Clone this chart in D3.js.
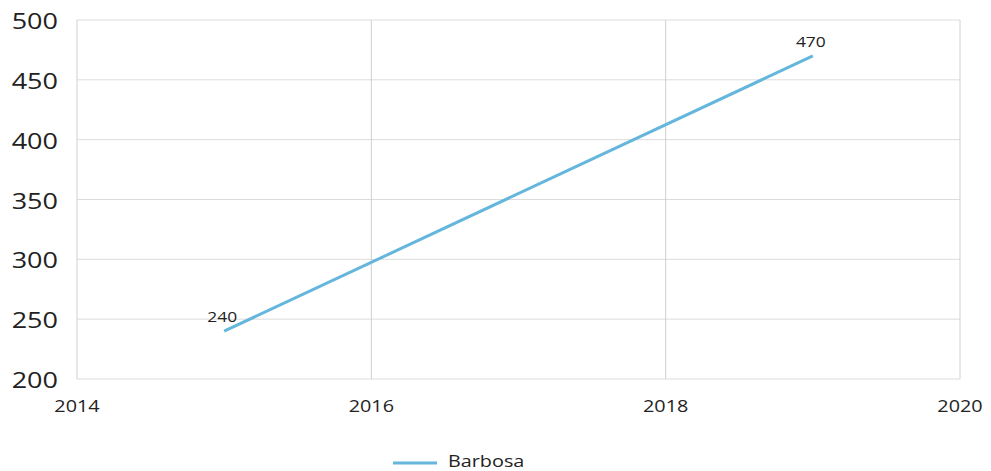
<!DOCTYPE html>
<html><head><meta charset="utf-8">
<script src="https://cdn.jsdelivr.net/npm/d3@7"></script>
<style>body{margin:0;background:#fff;} text{font-family:"Open Sans",sans-serif;fill:#222;}</style>
</head><body>
<svg id="c" width="991" height="471"></svg>
<script>
const years = [2015, 2019];
const values = [240, 470];
const seriesName = "Barbosa";
const xTicks = [2014, 2016, 2018, 2020];
const yTicks = [200, 250, 300, 350, 400, 450, 500];

const svg = d3.select("#c");
const m = {l:77, t:20, r:960, b:379};
const x = d3.scaleLinear().domain([2014, 2020]).range([m.l, m.r]);
const y = d3.scaleLinear().domain([200, 500]).range([m.b, m.t]);
const sx = 1.2;

// horizontal grid
svg.append("g").selectAll("line").data(yTicks).join("line")
  .attr("x1", m.l).attr("x2", m.r).attr("y1", d=>y(d)).attr("y2", d=>y(d))
  .attr("stroke", "#dcdcdc").attr("stroke-width", 1);
// vertical grid
svg.append("g").selectAll("line").data(xTicks).join("line")
  .attr("x1", d=>x(d)).attr("x2", d=>x(d)).attr("y1", m.t).attr("y2", m.b)
  .attr("stroke", "#d0d0d0").attr("stroke-width", 1);

// y labels
svg.append("g").selectAll("text").data(yTicks).join("text")
  .attr("transform", d=>`translate(58,${y(d)}) scale(${sx},1)`)
  .attr("text-anchor", "end").attr("dominant-baseline", "central")
  .style("font-size", "22.5px").text(d=>d);
// x labels
svg.append("g").selectAll("text").data(xTicks).join("text")
  .attr("transform", d=>`translate(${x(d)},412) scale(${sx},1)`)
  .attr("text-anchor", "middle")
  .style("font-size", "16.5px").text(d=>d);

const data = years.map((yr,i)=>({yr, v:values[i]}));
svg.append("path").datum(data)
  .attr("d", d3.line().x(d=>x(d.yr)).y(d=>y(d.v)))
  .attr("fill", "none").attr("stroke", "#64b6dc").attr("stroke-width", 3);

svg.append("g").selectAll("text").data(data).join("text")
  .attr("transform", d=>`translate(${x(d.yr)-2},${y(d.v)-9}) scale(${sx},1)`)
  .attr("text-anchor", "middle")
  .style("font-size", "14.5px").text(d=>d.v);

// legend
svg.append("line").attr("x1", 393).attr("x2", 437).attr("y1", 463).attr("y2", 463)
  .attr("stroke", "#64b6dc").attr("stroke-width", 3);
svg.append("text").attr("transform", `translate(448,467) scale(${sx},1)`)
  .style("font-size", "16.5px").text(seriesName);
</script>
</body></html>
